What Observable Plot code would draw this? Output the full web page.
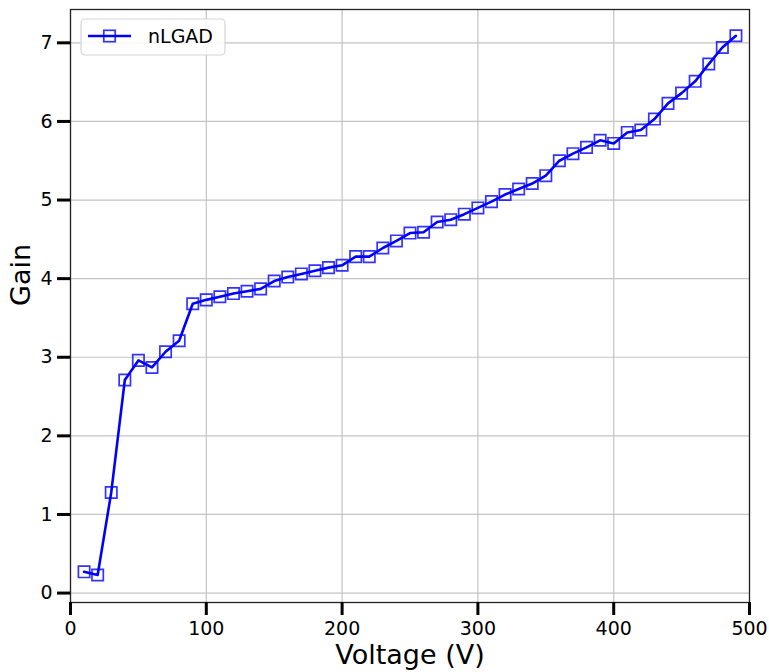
<!DOCTYPE html>
<html>
<head>
<meta charset="utf-8">
<script src="https://cdn.jsdelivr.net/npm/d3@7"></script>
<script src="https://cdn.jsdelivr.net/npm/@observablehq/plot@0.6"></script>
<style>
  html, body { margin: 0; padding: 0; background: #fff; }
  #chart { width: 769px; height: 672px; }
</style>
</head>
<body>
<div id="chart"></div>
<script>
const voltage = [10, 20, 30, 40, 50, 60, 70, 80, 90, 100,
  110, 120, 130, 140, 150, 160, 170, 180, 190, 200,
  210, 220, 230, 240, 250, 260, 270, 280, 290, 300,
  310, 320, 330, 340, 350, 360, 370, 380, 390, 400,
  410, 420, 430, 440, 450, 460, 470, 480, 490];
const gain = [0.27, 0.23, 1.28, 2.71, 2.96, 2.87, 3.07, 3.21, 3.68, 3.73,
  3.77, 3.81, 3.84, 3.87, 3.97, 4.02, 4.06, 4.10, 4.14, 4.17,
  4.28, 4.28, 4.39, 4.48, 4.58, 4.59, 4.72, 4.75, 4.82, 4.90,
  4.98, 5.07, 5.14, 5.21, 5.31, 5.50, 5.59, 5.67, 5.76, 5.72,
  5.86, 5.89, 6.03, 6.23, 6.36, 6.51, 6.73, 6.94, 7.09];
const xTicks = [0, 100, 200, 300, 400, 500];
const yTicks = [0, 1, 2, 3, 4, 5, 6, 7];
const seriesName = "nLGAD";
const xLabel = "Voltage (V)";
const yLabel = "Gain";

const data = voltage.map((v, i) => ({voltage: v, gain: gain[i]}));
const blue = "#0000ff";

const chart = Plot.plot({
  width: 769,
  height: 672,
  marginLeft: 70,
  marginRight: 20,
  marginTop: 9,
  marginBottom: 70,
  style: {fontFamily: "DejaVu Sans", fontSize: "19px", background: "white", color: "black"},
  x: {domain: [0, 500]},
  y: {domain: [-0.12, 7.424]},
  marks: [
    Plot.gridX(xTicks, {stroke: "#c4c4c4", strokeOpacity: 1, strokeWidth: 1.2}),
    Plot.gridY(yTicks, {stroke: "#c4c4c4", strokeOpacity: 1, strokeWidth: 1.2}),
    Plot.frame({stroke: "#222", strokeWidth: 1.3}),
    Plot.axisX(xTicks, {tickSize: 13, strokeWidth: 3, tickPadding: 6, fontSize: 19, label: null, tickFormat: d3.format("d")}),
    Plot.axisY(yTicks, {tickSize: 13, strokeWidth: 3, tickPadding: 5, fontSize: 19, label: null, tickFormat: d3.format("d")}),
    Plot.line(data, {x: "voltage", y: "gain", stroke: blue, strokeWidth: 2.6}),
    Plot.dot(data, {x: "voltage", y: "gain", symbol: "square", r: 6.4, stroke: blue, strokeOpacity: 0.8, fill: "none", strokeWidth: 1.7}),
    Plot.text([xLabel], {frameAnchor: "bottom", dy: 61, fontSize: 27, fill: "black"}),
    Plot.text([yLabel], {frameAnchor: "left", dx: -49, rotate: -90, fontSize: 27, fill: "black"})
  ]
});

document.getElementById("chart").appendChild(chart);

// legend inside the plot area, upper-left
const svg = d3.select(chart);
const lg = svg.append("g").attr("font-family", "DejaVu Sans").attr("text-anchor", "start");
lg.append("rect").attr("x", 81).attr("y", 19).attr("width", 144).attr("height", 36)
  .attr("rx", 4).attr("fill", "white").attr("fill-opacity", 0.85)
  .attr("stroke", "#d6d6d6").attr("stroke-width", 1.2);
lg.append("line").attr("x1", 88).attr("x2", 131).attr("y1", 36).attr("y2", 36)
  .attr("stroke", blue).attr("stroke-width", 2.6);
lg.append("rect").attr("x", 103.8).attr("y", 30.3).attr("width", 11.4).attr("height", 11.4)
  .attr("fill", "none").attr("stroke", blue).attr("stroke-opacity", 0.8).attr("stroke-width", 1.7);
lg.append("text").attr("x", 148).attr("y", 43).attr("font-size", 19).attr("fill", "black")
  .attr("text-anchor", "start").text(seriesName);
</script>
</body>
</html>
